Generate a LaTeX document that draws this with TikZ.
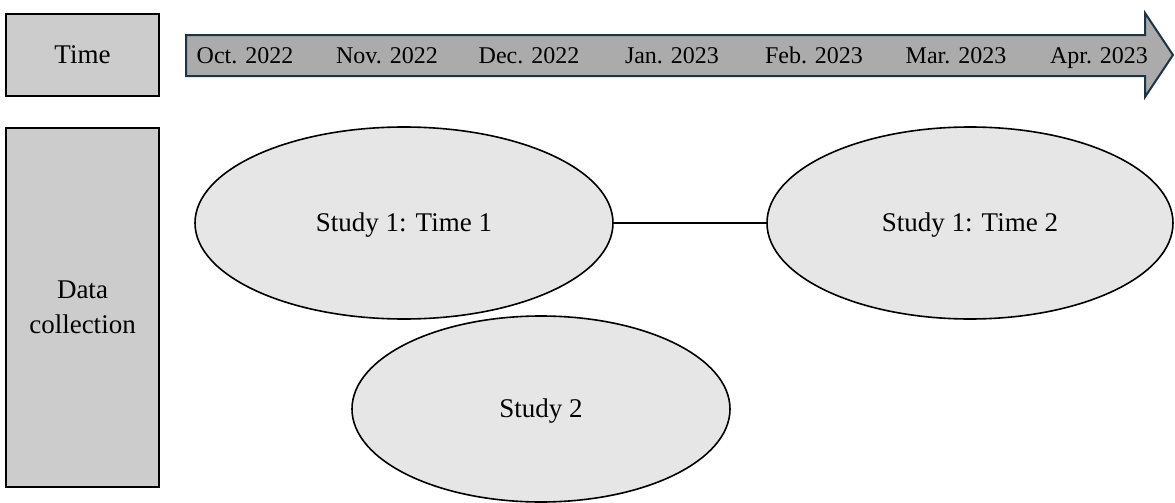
\documentclass[tikz,border=0pt]{standalone}
\usepackage{fontspec}
\setmainfont{Liberation Serif}
\usetikzlibrary{shapes.geometric}
\definecolor{boxgray}{HTML}{CCCCCC}
\definecolor{arrowgray}{HTML}{ABABAB}
\definecolor{arrowline}{HTML}{1C3445}
\definecolor{ellgray}{HTML}{E6E6E6}
\tikzset{
  labelbox/.style={draw=black, fill=boxgray, line width=1.1pt, inner sep=0pt, align=center, font=\fontsize{13.5}{16}\selectfont},
  study/.style={ellipse, draw=black, fill=ellgray, line width=0.8pt, inner sep=0pt, text height=8.9pt, text depth=0pt, font=\fontsize{13.5}{16}\selectfont},
  month/.style={inner sep=0pt, text height=7.9pt, text depth=0pt, font=\fontsize{12}{14}\selectfont},
  link/.style={draw=black, line width=0.9pt}
}
\begin{document}
\begin{tikzpicture}[x=0.5pt, y=-0.5pt]
\useasboundingbox (0,0) rectangle (1175,503);
% row headers
\node[labelbox, minimum width=76.5pt, minimum height=41pt] (time) at (82.5,55) {Time};
\node[labelbox, minimum width=76.5pt, minimum height=179.5pt] (data) at (82.5,307.5) {Data\\[1.5pt]collection};
% timeline arrow
\draw[fill=arrowgray, draw=arrowline, line width=1pt]
  (186,35) -- (1145,35) -- (1145,13) -- (1173,55) -- (1145,97) -- (1145,76) -- (186,76) -- cycle;
\node[month] (m1) at (245,56) {Oct. 2022};
\node[month] (m2) at (387,56) {Nov. 2022};
\node[month] (m3) at (529,56) {Dec. 2022};
\node[month] (m4) at (672,56) {Jan. 2023};
\node[month] (m5) at (814,56) {Feb. 2023};
\node[month] (m6) at (956,56) {Mar. 2023};
\node[month] (m7) at (1099,56) {Apr. 2023};
% studies
\node[study, minimum width=209pt, minimum height=96pt] (s11) at (404,223) {Study 1: Time 1};
\node[study, minimum width=203pt, minimum height=96pt] (s12) at (970,223) {Study 1: Time 2};
\node[study, minimum width=189pt, minimum height=93pt] (s2) at (541,409) {Study 2};
\draw[link] (s11.east) -- (s12.west);
\end{tikzpicture}
\end{document}
